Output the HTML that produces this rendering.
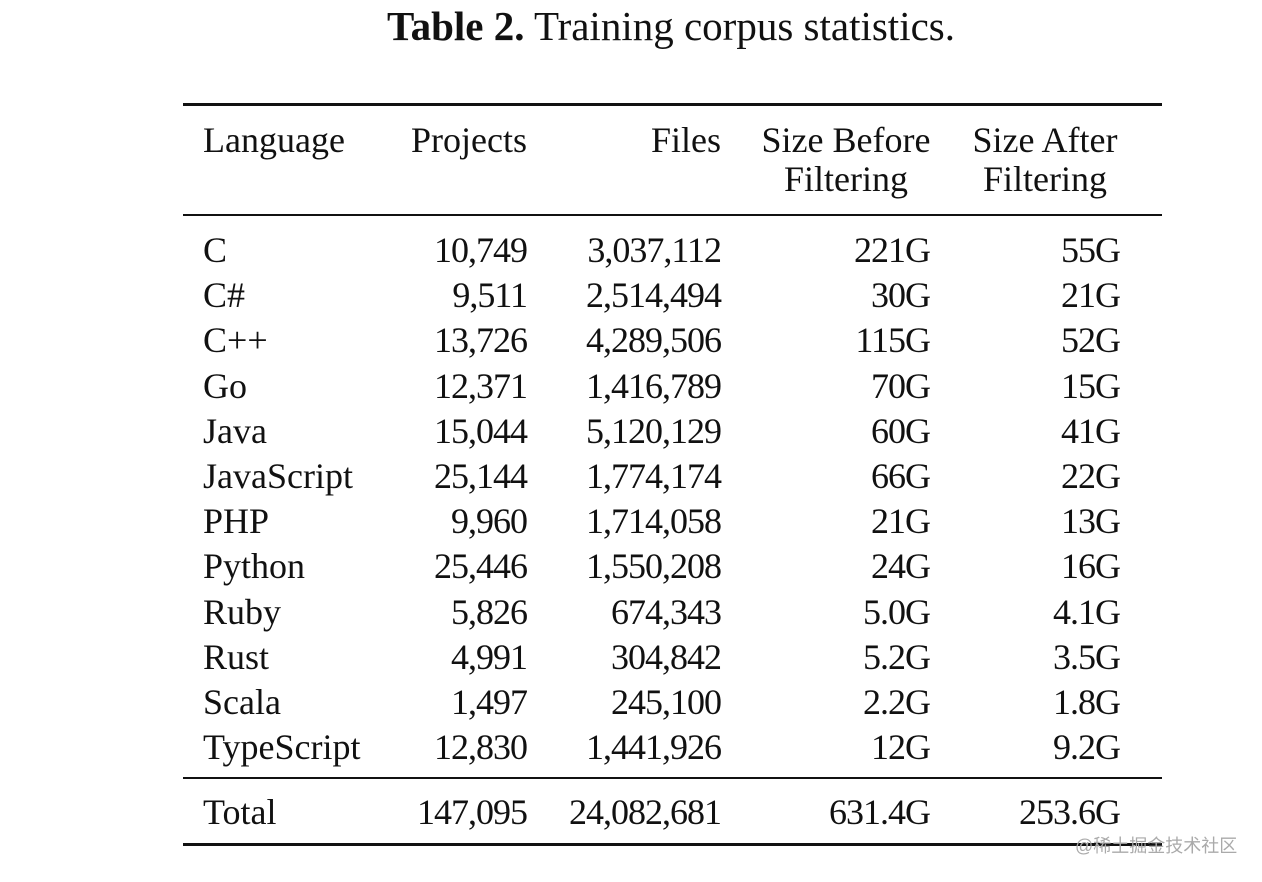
<!DOCTYPE html>
<html><head><meta charset="utf-8"><style>
body{margin:0;width:1262px;height:882px;background:#fff;position:relative;overflow:hidden;font-family:"Liberation Serif",serif;color:#111}
.t{position:absolute;font-size:36px;white-space:nowrap;line-height:1}
.n{letter-spacing:-1px}
.rule{position:absolute;left:183px;width:979px;background:#111}
</style></head><body>
<div class="t" style="left:0;width:1342px;text-align:center;top:6px;font-size:41px"><b>Table 2.</b> Training corpus statistics.</div>
<div class="rule" style="top:103px;height:3px"></div>
<div class="rule" style="top:214px;height:2px"></div>
<div class="rule" style="top:777px;height:2px"></div>
<div class="rule" style="top:843px;height:3px"></div>
<div id="c"></div>
<div class="t" style="left:1075px;top:837px;font-size:18px;color:#aaa;font-family:'Liberation Sans','Noto Sans CJK SC',sans-serif">@稀土掘金技术社区</div>
<script>
const c=document.getElementById('c');
function put(txt,x,base,align,num){const d=document.createElement('div');d.className='t'+(num?' n':'');d.textContent=txt;const top=base-28;
if(align==='l'){d.style.left=x+'px';}else if(align==='r'){d.style.right=(1262-x)+'px';}else{d.style.left=(x-150)+'px';d.style.width='300px';d.style.textAlign='center';}
d.style.top=top+'px';c.appendChild(d);}
put('Language',203,150,'l');put('Projects',527,150,'r');put('Files',721,150,'r');
put('Size Before',846,150,'c');put('Filtering',846,189,'c');
put('Size After',1045,150,'c');put('Filtering',1045,189,'c');
const rows=[["C","10,749","3,037,112","221G","55G"],["C#","9,511","2,514,494","30G","21G"],["C++","13,726","4,289,506","115G","52G"],["Go","12,371","1,416,789","70G","15G"],["Java","15,044","5,120,129","60G","41G"],["JavaScript","25,144","1,774,174","66G","22G"],["PHP","9,960","1,714,058","21G","13G"],["Python","25,446","1,550,208","24G","16G"],["Ruby","5,826","674,343","5.0G","4.1G"],["Rust","4,991","304,842","5.2G","3.5G"],["Scala","1,497","245,100","2.2G","1.8G"],["TypeScript","12,830","1,441,926","12G","9.2G"]];
rows.forEach((r,i)=>{const b=260+45.2*i;put(r[0],203,b,'l');put(r[1],527,b,'r',1);put(r[2],721,b,'r',1);put(r[3],930,b,'r',1);put(r[4],1120,b,'r',1);});
const b=822;put('Total',203,b,'l');put('147,095',527,b,'r',1);put('24,082,681',721,b,'r',1);put('631.4G',930,b,'r',1);put('253.6G',1120,b,'r',1);
</script>
</body></html>
